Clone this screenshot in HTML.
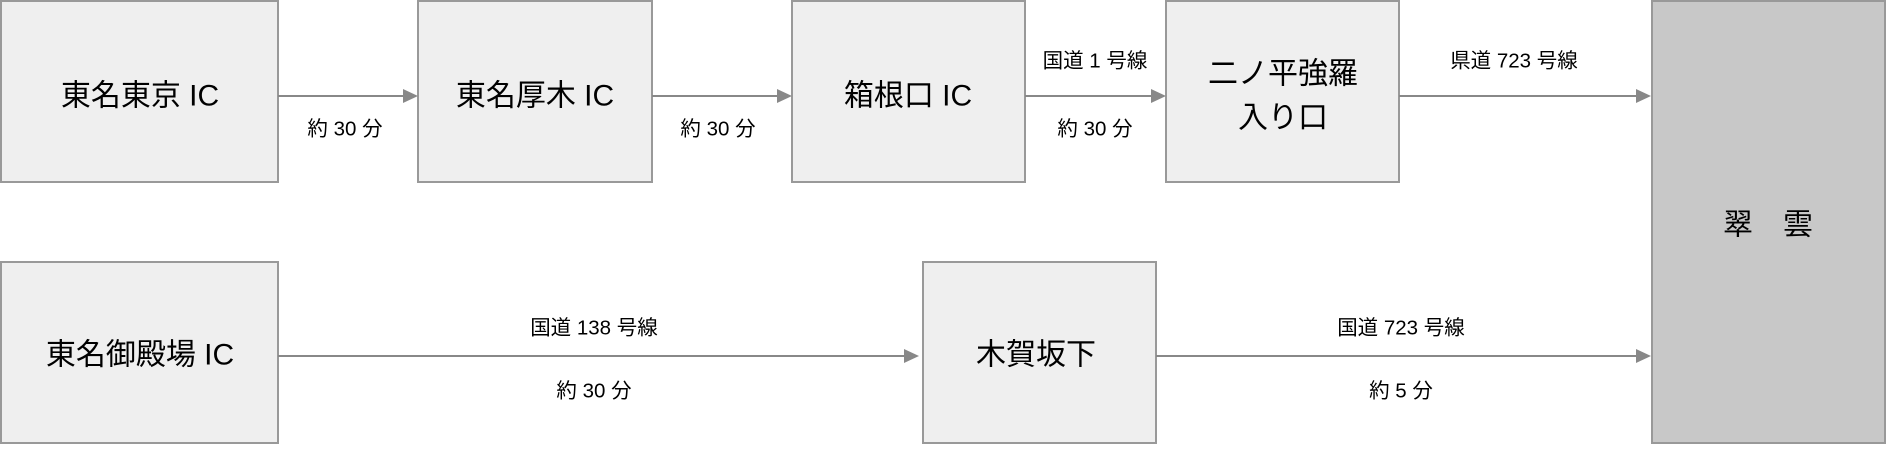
<!DOCTYPE html>
<html><head><meta charset="utf-8"><style>
body{margin:0;background:#fff;}
svg text{font-family:"Liberation Sans","Noto Sans CJK JP",sans-serif;fill:#000;text-anchor:middle;dominant-baseline:central;}
.b{fill:#efefef;stroke:#999;stroke-width:2;}
.l{stroke:#888;stroke-width:2;fill:none;}
.h{fill:#888;}
.t{font-size:30px;}
.s{font-size:20.5px;}
</style></head><body>
<svg width="1886" height="445" viewBox="0 0 1886 445" xmlns="http://www.w3.org/2000/svg">
<rect class="b" x="1" y="1" width="277" height="181"/>
<rect class="b" x="418" y="1" width="234" height="181"/>
<rect class="b" x="792" y="1" width="233" height="181"/>
<rect class="b" x="1166" y="1" width="233" height="181"/>
<rect x="1652" y="1" width="233" height="442" fill="#c8c8c8" stroke="#999" stroke-width="2"/>
<rect class="b" x="1" y="262" width="277" height="181"/>
<rect class="b" x="923" y="262" width="233" height="181"/>

<text class="t" x="140" y="96">東名東京 IC</text>
<text class="t" x="535" y="96">東名厚木 IC</text>
<text class="t" x="908" y="96">箱根口 IC</text>
<text class="t" x="1283" y="74">二ノ平強羅</text>
<text class="t" x="1283" y="118">入り口</text>
<text class="t" x="1768" y="225">翠　雲</text>
<text class="t" x="140" y="355">東名御殿場 IC</text>
<text class="t" x="1036" y="355">木賀坂下</text>

<line class="l" x1="278" y1="96" x2="405" y2="96"/><path class="h" d="M403 89 L418 96 L403 103 Z"/>
<line class="l" x1="652" y1="96" x2="779" y2="96"/><path class="h" d="M777 89 L792 96 L777 103 Z"/>
<line class="l" x1="1025" y1="96" x2="1153" y2="96"/><path class="h" d="M1151 89 L1166 96 L1151 103 Z"/>
<line class="l" x1="1399" y1="96" x2="1638" y2="96"/><path class="h" d="M1636 89 L1651 96 L1636 103 Z"/>
<line class="l" x1="278" y1="356" x2="906" y2="356"/><path class="h" d="M904 349 L919 356 L904 363 Z"/>
<line class="l" x1="1156" y1="356" x2="1638" y2="356"/><path class="h" d="M1636 349 L1651 356 L1636 363 Z"/>

<text class="s" x="345" y="129">約 30 分</text>
<text class="s" x="718" y="129">約 30 分</text>
<text class="s" x="1095" y="61">国道 1 号線</text>
<text class="s" x="1095" y="129">約 30 分</text>
<text class="s" x="1514" y="61">県道 723 号線</text>
<text class="s" x="594" y="328">国道 138 号線</text>
<text class="s" x="594" y="391">約 30 分</text>
<text class="s" x="1401" y="328">国道 723 号線</text>
<text class="s" x="1401" y="391">約 5 分</text>
</svg>
</body></html>
